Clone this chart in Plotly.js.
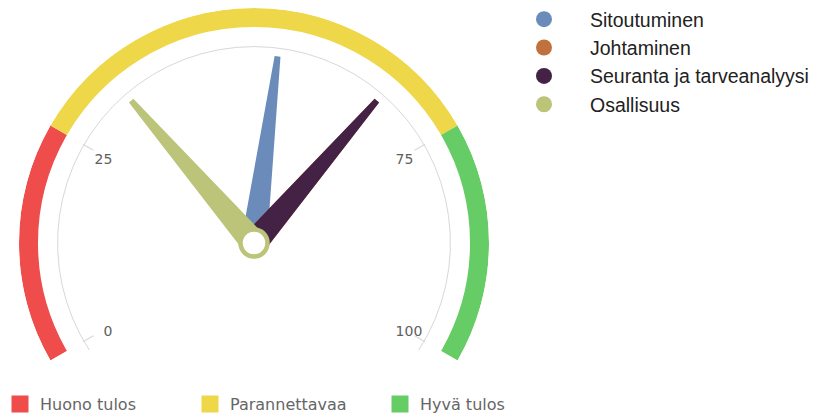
<!DOCTYPE html>
<html>
<head>
<meta charset="utf-8">
<script src="https://cdn.plot.ly/plotly-3.0.1.min.js"></script>
<style>html,body{margin:0;padding:0;background:#fff;}#chart{width:831px;height:414px;}</style>
</head>
<body>
<div id="chart"></div>
<script>
// ---- data ----
const seriesNames = ['Sitoutuminen', 'Johtaminen', 'Seuranta ja tarveanalyysi', 'Osallisuus'];
const seriesValues = [53, 67, 67, 33];
const bandNames = ['Huono tulos', 'Parannettavaa', 'Hyvä tulos'];
const bandFrom = [0, 25, 75];
const bandTo = [25, 75, 100];
const tickValues = [0, 25, 75, 100];
const tickLabels = ['0', '25', '75', '100'];

// ---- styles ----
const seriesColors = ['#6b8cba', '#c0713d', '#442246', '#bcc47a'];
const bandColors = ['#ef4c4c', '#eed84a', '#66cc66'];

// ---- geometry (layout only) ----
const W = 831, H = 414, CX = 254, CY = 243;
const R_BAND = 235, BAND_T = 19;      // band outer radius / thickness (px)
const BAND_LINE = 5;                  // outline width of band (also sizes legend swatch)
const R_AXIS = 198;                   // grey scale arc
const R_LABEL = 163;                  // tick label ring
const NEEDLE_LEN = 187, NEEDLE_BASE = 12, NEEDLE_TIP = 2;

// value (0..100) -> angle on the dial, degrees clockwise from top
function valToDeg(v) { return (v - 50) * 240 / 100; }

function dom(R, ext) {
  const low = R * Math.sin(ext * Math.PI / 180);
  return { x: [(CX - R) / W, (CX + R) / W], y: [1 - (CY + low) / H, 1 - (CY - R) / H] };
}

function polarBase(R, ext) {
  return {
    domain: dom(R, ext),
    sector: [-ext, 180 + ext],
    bgcolor: 'rgba(0,0,0,0)',
    hole: 0,
    radialaxis: { visible: false, range: [0, 1], autorange: false },
    angularaxis: {
      rotation: 90, direction: 'clockwise', thetaunit: 'degrees',
      showgrid: false, showline: false, ticks: '', showticklabels: false
    }
  };
}

const traces = [];
const toDeg = 180 / Math.PI;

// bands (outline in the same colour restores the full size)
const bandMid = R_BAND - BAND_T / 2;
const halfLineDeg = (BAND_LINE / 2) / bandMid * toDeg;
bandNames.forEach((name, i) => {
  traces.push({
    type: 'barpolar', subplot: 'polar', legend: 'legend2', name: name,
    theta: [valToDeg((bandFrom[i] + bandTo[i]) / 2)],
    width: [(bandTo[i] - bandFrom[i]) * 2.4 - 2 * halfLineDeg],
    base: [(R_BAND - BAND_T + BAND_LINE / 2) / R_BAND],
    r: [(BAND_T - BAND_LINE) / R_BAND],
    marker: { color: bandColors[i], line: { width: BAND_LINE, color: bandColors[i] } },
    hoverinfo: 'skip'
  });
});

// needles
seriesNames.forEach((name, i) => {
  const d = valToDeg(seriesValues[i]);
  const rb = NEEDLE_BASE / R_AXIS;
  const rt = Math.sqrt(NEEDLE_LEN * NEEDLE_LEN + NEEDLE_TIP * NEEDLE_TIP) / R_AXIS;
  const dt = Math.atan(NEEDLE_TIP / NEEDLE_LEN) * toDeg;
  traces.push({
    type: 'scatterpolar', subplot: 'polar2', name: name, showlegend: false,
    mode: 'lines', fill: 'toself', fillcolor: seriesColors[i],
    line: { color: seriesColors[i], width: 2 },
    r: [rb, rt, rt, rb, rb],
    theta: [d - 90, d - dt, d + dt, d + 90, d - 90],
    hoverinfo: 'skip'
  });
});

// pivot (drawn with the top series)
const last = seriesNames.length - 1;
traces.push({
  type: 'scatterpolar', subplot: 'polar2', showlegend: false, mode: 'markers', cliponaxis: false,
  r: [0], theta: [valToDeg(seriesValues[last])],
  marker: { size: 27, color: '#ffffff', line: { color: seriesColors[last], width: 4.5 } },
  hoverinfo: 'skip'
});

// legend entries for the series (circle symbols)
seriesNames.forEach((name, i) => {
  traces.push({
    type: 'scatterpolar', subplot: 'polar2', legend: 'legend', name: name,
    mode: 'markers', r: [null], theta: [null],
    marker: { symbol: 'circle', size: 16, color: seriesColors[i] },
    hoverinfo: 'skip'
  });
});

// host for the tick-label ring
traces.push({ type: 'scatterpolar', subplot: 'polar3', showlegend: false, mode: 'markers', r: [null], theta: [null] });

const tickDeg = tickValues.map(valToDeg);

const polar = polarBase(R_BAND, 30);
const polar2 = polarBase(R_AXIS, 33);
polar2.radialaxis = {
  visible: true, range: [0, 1], autorange: false,
  showline: false, showticklabels: false, ticks: '',
  showgrid: true, gridcolor: '#d8d8d8', gridwidth: 1,
  tickmode: 'array', tickvals: [0.992]
};
polar2.angularaxis = Object.assign({}, polar2.angularaxis, {
  showline: false,
  ticks: 'inside', ticklen: 12, tickwidth: 1, tickcolor: '#d8d8d8',
  tickmode: 'array', tickvals: tickDeg
});
const polar3 = polarBase(R_LABEL, 30);
polar3.angularaxis = Object.assign({}, polar3.angularaxis, {
  showticklabels: true, tickmode: 'array', tickvals: tickDeg, ticktext: tickLabels,
  tickfont: { family: 'DejaVu Sans, sans-serif', size: 14, color: '#606060' }
});

const layout = {
  width: W, height: H,
  margin: { l: 0, r: 0, t: 0, b: 0, autoexpand: false },
  paper_bgcolor: '#ffffff',
  showlegend: true,
  polar: polar, polar2: polar2, polar3: polar3,
  legend: {
    x: 498 / W, y: 1, xanchor: 'left', yanchor: 'top', orientation: 'v',
    itemwidth: 82, bgcolor: 'rgba(0,0,0,0)', borderwidth: 0,
    font: { family: 'Liberation Sans, Arial, sans-serif', size: 19.5, color: '#222222' }
  },
  legend2: {
    x: 0, y: 1 - 387 / H, xanchor: 'left', yanchor: 'top', orientation: 'h',
    entrywidth: 145, entrywidthmode: 'pixels', bgcolor: 'rgba(0,0,0,0)', borderwidth: 0,
    font: { family: 'DejaVu Sans, sans-serif', size: 16, color: '#666666' }
  }
};

Plotly.newPlot('chart', traces, layout, { staticPlot: true, displayModeBar: false });
</script>
</body>
</html>
